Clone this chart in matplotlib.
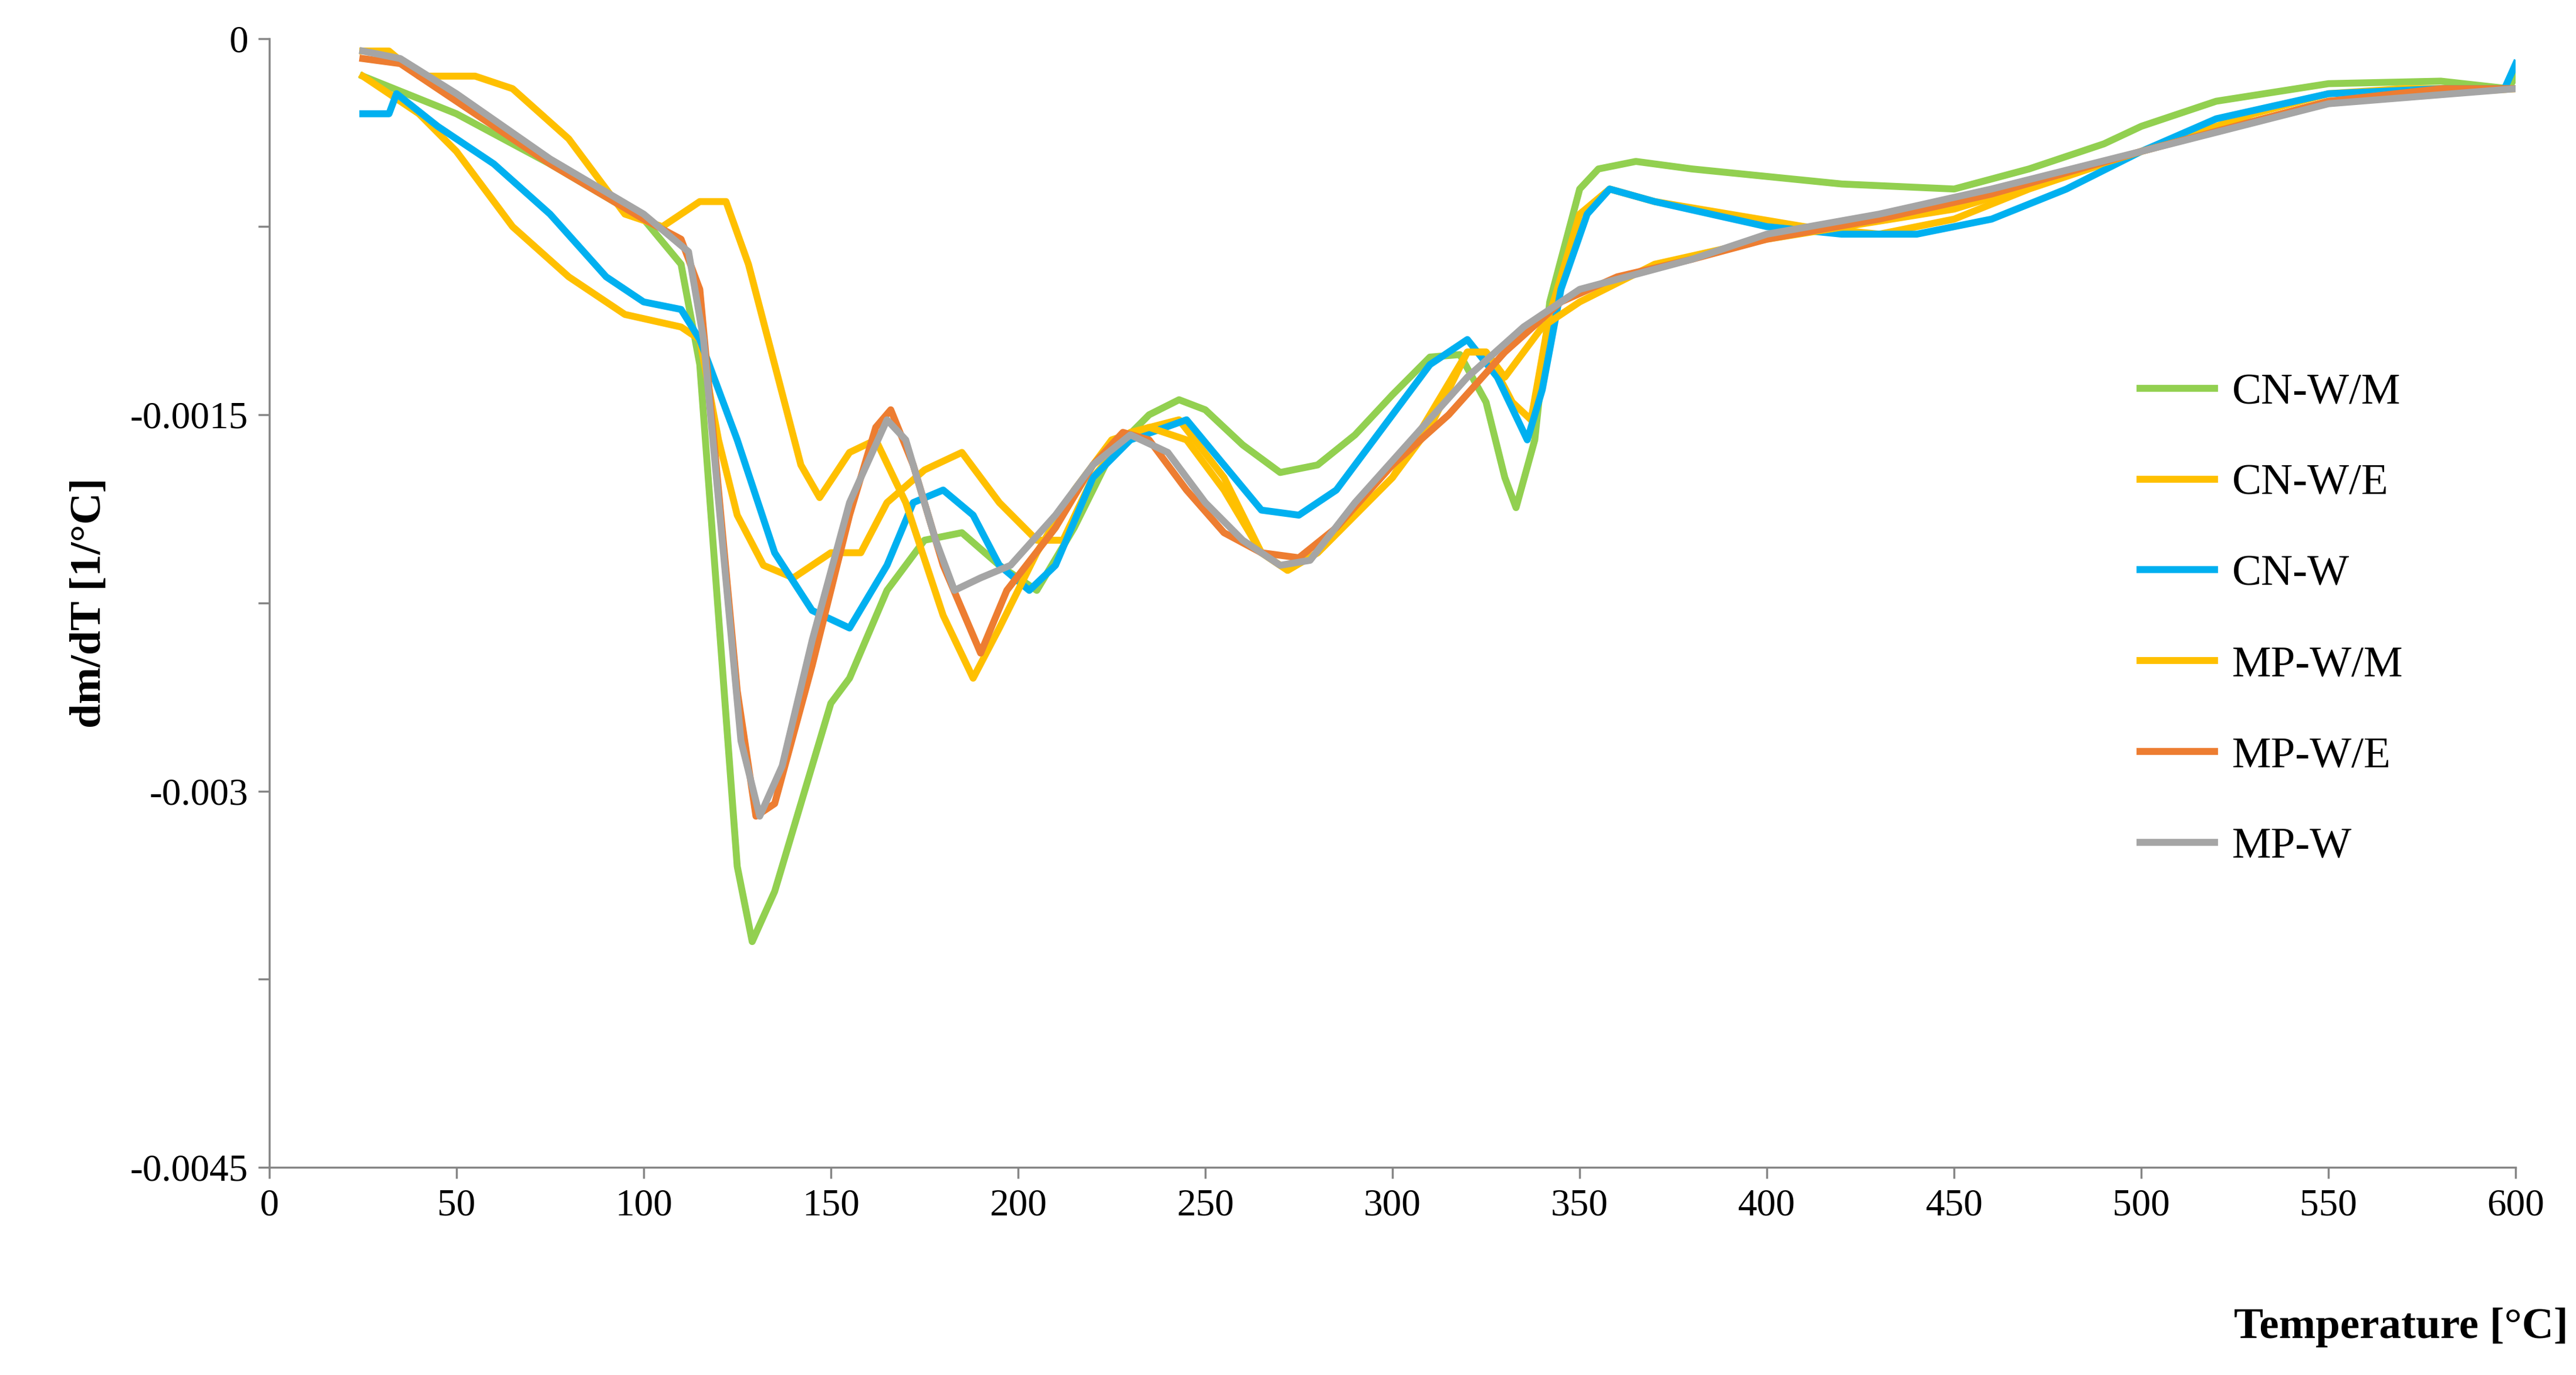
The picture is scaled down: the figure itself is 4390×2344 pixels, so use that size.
import matplotlib
matplotlib.use("Agg")
import matplotlib.pyplot as plt
import numpy as np

plt.rcParams['font.family'] = ['Liberation Serif', 'DejaVu Serif']

cnwm_T = [25,50,75,100,110,115,120,125,129,135,145,150,155,165,175,185,195,205,215,225,235,243,250,260,270,280,290,300,310,318,325,330,333,338,342,350,355,365,380,400,420,450,470,490,500,520,550,580,598,600]
cnwm_v = [-0.15,-0.3,-0.5,-0.72,-0.9,-1.3,-2.3,-3.3,-3.6,-3.4,-2.9,-2.65,-2.55,-2.2,-2.0,-1.97,-2.1,-2.2,-1.95,-1.65,-1.5,-1.44,-1.48,-1.62,-1.73,-1.7,-1.58,-1.42,-1.27,-1.26,-1.45,-1.75,-1.87,-1.6,-1.05,-0.6,-0.52,-0.49,-0.52,-0.55,-0.58,-0.6,-0.52,-0.42,-0.35,-0.25,-0.18,-0.17,-0.2,-0.15]

cnwe_T = [25,40,50,65,80,95,110,115,120,125,132,140,150,158,165,175,185,195,205,212,220,230,243,255,265,272,280,290,300,310,320,325,332,337,342,350,358,370,390,410,430,450,470,500,530,550,570,600]
cnwe_v = [-0.15,-0.3,-0.45,-0.75,-0.95,-1.1,-1.15,-1.2,-1.6,-1.9,-2.1,-2.15,-2.05,-2.05,-1.85,-1.72,-1.65,-1.85,-2.0,-2.0,-1.75,-1.57,-1.52,-1.75,-2.05,-2.12,-2.05,-1.9,-1.75,-1.55,-1.25,-1.25,-1.45,-1.52,-1.1,-0.7,-0.6,-0.65,-0.7,-0.75,-0.78,-0.72,-0.6,-0.45,-0.3,-0.22,-0.2,-0.2]

cnw_T = [25,32,34,45,60,75,90,100,110,115,125,135,145,155,165,172,180,188,195,203,210,220,230,245,255,265,275,285,300,310,320,328,336,340,345,352,358,370,385,400,420,440,460,480,500,520,550,580,597,600]
cnw_v = [-0.3,-0.3,-0.22,-0.35,-0.5,-0.7,-0.95,-1.05,-1.08,-1.2,-1.6,-2.05,-2.28,-2.35,-2.1,-1.85,-1.8,-1.9,-2.1,-2.2,-2.1,-1.75,-1.6,-1.52,-1.7,-1.88,-1.9,-1.8,-1.5,-1.3,-1.2,-1.35,-1.6,-1.4,-1.0,-0.7,-0.6,-0.65,-0.7,-0.75,-0.78,-0.78,-0.72,-0.6,-0.45,-0.32,-0.22,-0.2,-0.2,-0.1]

mpwm_T = [25,32,40,55,65,80,95,105,115,122,128,135,142,147,155,162,170,180,188,195,205,215,225,235,245,255,265,272,280,300,320,325,330,340,350,370,400,450,500,550,600]
mpwm_v = [-0.05,-0.05,-0.15,-0.15,-0.2,-0.4,-0.7,-0.75,-0.65,-0.65,-0.9,-1.3,-1.7,-1.83,-1.65,-1.6,-1.85,-2.3,-2.55,-2.35,-2.05,-1.8,-1.6,-1.55,-1.6,-1.8,-2.05,-2.12,-2.05,-1.75,-1.25,-1.25,-1.35,-1.15,-1.05,-0.9,-0.8,-0.68,-0.45,-0.25,-0.2]

mpwe_T = [25,35,50,75,100,110,115,120,125,130,135,145,155,162,166,172,180,190,197,210,220,228,235,245,255,265,275,285,300,315,330,345,360,380,400,430,460,500,550,580,600]
mpwe_v = [-0.08,-0.1,-0.25,-0.5,-0.72,-0.8,-1.0,-1.8,-2.6,-3.1,-3.05,-2.5,-1.9,-1.55,-1.48,-1.7,-2.1,-2.45,-2.2,-1.95,-1.7,-1.57,-1.6,-1.8,-1.97,-2.05,-2.07,-1.95,-1.7,-1.5,-1.25,-1.05,-0.95,-0.88,-0.8,-0.72,-0.62,-0.45,-0.25,-0.2,-0.2]

mpw_T = [25,35,50,75,100,112,116,121,126,131,137,145,155,165,170,178,183,190,198,210,220,230,240,250,260,270,278,290,305,320,335,350,380,400,430,460,500,550,600]
mpw_v = [-0.05,-0.08,-0.22,-0.48,-0.7,-0.85,-1.2,-2.0,-2.8,-3.1,-2.9,-2.4,-1.85,-1.52,-1.6,-2.0,-2.2,-2.15,-2.1,-1.9,-1.7,-1.58,-1.65,-1.85,-2.0,-2.1,-2.08,-1.85,-1.6,-1.35,-1.15,-1.0,-0.88,-0.78,-0.7,-0.6,-0.45,-0.26,-0.2]

labels = ['CN-W/M','CN-W/E','CN-W','MP-W/M','MP-W/E','MP-W']
colors = ['#92D050','#FFC000','#00B0F0','#FFC000','#ED7D31','#A5A5A5']
series = [(cnwm_T,cnwm_v),(cnwe_T,cnwe_v),(cnw_T,cnw_v),(mpwm_T,mpwm_v),(mpwe_T,mpwe_v),(mpw_T,mpw_v)]

fig = plt.figure(figsize=(43.9,23.44), dpi=100)
ax = fig.add_axes([0.1045,0.151,0.8765*0.995,0.821])
for (T,v),lab,c in zip(series,labels,colors):
    ax.plot(T, np.array(v)*1e-3, color=c, lw=8.5, label=lab, solid_joinstyle='round')

ax.set_xlim(0,600)
ax.set_ylim(-0.0045,0)
ax.set_xticks(np.arange(0,601,50))
ax.set_yticks([0,-0.00075,-0.0015,-0.00225,-0.003,-0.00375,-0.0045])
ax.set_yticklabels(['0','','-0.0015','','-0.003','','-0.0045'])
ax.tick_params(labelsize=47, length=14, width=2.5, color='#868686', pad=12)
for s in ['top','right']:
    ax.spines[s].set_visible(False)
for s in ['left','bottom']:
    ax.spines[s].set_color('#868686'); ax.spines[s].set_linewidth(2.5)
ax.set_ylabel('dm/dT [1/°C]', fontsize=54, fontweight='bold', labelpad=25)
fig.text(0.997, 0.02, 'Temperature [°C]', fontsize=54, fontweight='bold', ha='right', va='bottom')
leg = ax.legend(loc='center left', bbox_to_anchor=(0.815,0.485), frameon=False, fontsize=54,
                handlelength=1.7, labelspacing=1.15, handletextpad=0.4)
fig.savefig('out.png', dpi=100)
